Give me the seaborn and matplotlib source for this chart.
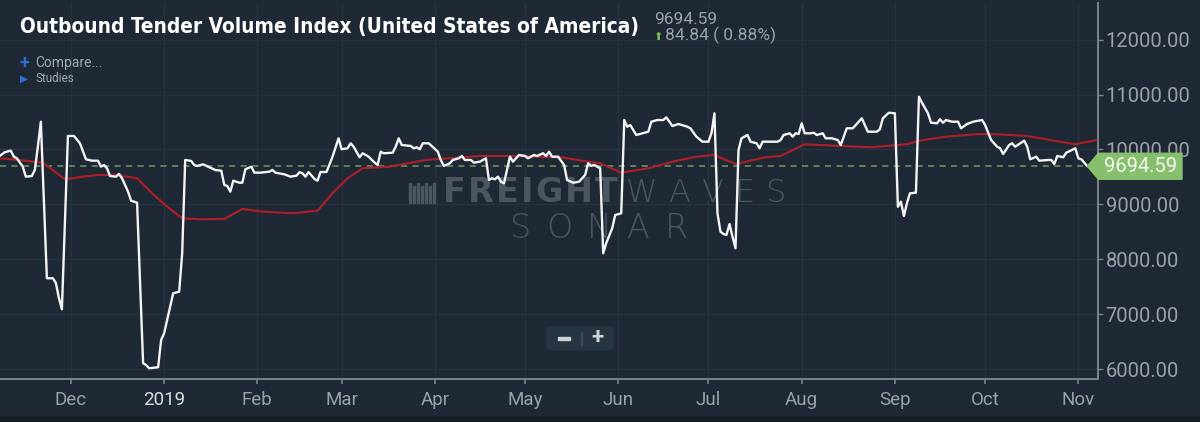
import pandas as pd
import matplotlib
matplotlib.use("Agg")
import matplotlib.pyplot as plt
import matplotlib.dates as mdates
from matplotlib import font_manager
from matplotlib.font_manager import FontProperties
from matplotlib.patches import Polygon, FancyBboxPatch, Rectangle
import seaborn as sns

# OTVI daily values
otvi_dates = [
    "2018-11-07", "2018-11-09", "2018-11-11", "2018-11-12", "2018-11-13", "2018-11-15", "2018-11-16",
    "2018-11-18", "2018-11-19", "2018-11-20", "2018-11-21", "2018-11-23", "2018-11-25", "2018-11-26",
    "2018-11-27", "2018-11-28", "2018-11-30", "2018-12-02", "2018-12-04", "2018-12-06", "2018-12-08",
    "2018-12-10", "2018-12-11", "2018-12-12", "2018-12-13", "2018-12-14", "2018-12-16", "2018-12-17",
    "2018-12-18", "2018-12-20", "2018-12-21", "2018-12-23", "2018-12-25", "2018-12-26", "2018-12-27",
    "2018-12-30", "2018-12-31", "2019-01-01", "2019-01-04", "2019-01-06", "2019-01-07", "2019-01-08",
    "2019-01-10", "2019-01-11", "2019-01-12", "2019-01-14", "2019-01-16", "2019-01-18", "2019-01-20",
    "2019-01-21", "2019-01-22", "2019-01-23", "2019-01-24", "2019-01-26", "2019-01-27", "2019-01-28",
    "2019-01-30", "2019-01-31", "2019-02-02", "2019-02-05", "2019-02-06", "2019-02-07", "2019-02-10",
    "2019-02-12", "2019-02-14", "2019-02-15", "2019-02-16", "2019-02-17", "2019-02-18", "2019-02-20",
    "2019-02-21", "2019-02-22", "2019-02-24", "2019-02-26", "2019-02-28", "2019-03-01", "2019-03-03",
    "2019-03-04", "2019-03-05", "2019-03-07", "2019-03-08", "2019-03-10", "2019-03-12", "2019-03-13",
    "2019-03-14", "2019-03-15", "2019-03-18", "2019-03-19", "2019-03-20", "2019-03-21", "2019-03-24",
    "2019-03-25", "2019-03-26", "2019-03-27", "2019-03-28", "2019-03-30", "2019-04-02", "2019-04-03",
    "2019-04-04", "2019-04-06", "2019-04-07", "2019-04-09", "2019-04-10", "2019-04-11", "2019-04-13",
    "2019-04-14", "2019-04-16", "2019-04-18", "2019-04-19", "2019-04-20", "2019-04-21", "2019-04-22",
    "2019-04-23", "2019-04-24", "2019-04-25", "2019-04-26", "2019-04-27", "2019-04-28", "2019-04-29",
    "2019-05-01", "2019-05-02", "2019-05-04", "2019-05-05", "2019-05-07", "2019-05-08", "2019-05-09",
    "2019-05-10", "2019-05-12", "2019-05-14", "2019-05-15", "2019-05-17", "2019-05-19", "2019-05-21",
    "2019-05-22", "2019-05-23", "2019-05-24", "2019-05-26", "2019-05-27", "2019-05-28", "2019-05-30",
    "2019-05-31", "2019-06-02", "2019-06-03", "2019-06-04", "2019-06-05", "2019-06-07", "2019-06-09",
    "2019-06-11", "2019-06-12", "2019-06-14", "2019-06-16", "2019-06-17", "2019-06-18", "2019-06-19",
    "2019-06-21", "2019-06-24", "2019-06-25", "2019-06-27", "2019-06-29", "2019-07-01", "2019-07-02",
    "2019-07-03", "2019-07-04", "2019-07-05", "2019-07-06", "2019-07-07", "2019-07-08", "2019-07-09",
    "2019-07-10", "2019-07-11", "2019-07-12", "2019-07-14", "2019-07-15", "2019-07-17", "2019-07-18",
    "2019-07-19", "2019-07-22", "2019-07-24", "2019-07-25", "2019-07-26", "2019-07-28", "2019-07-29",
    "2019-07-30", "2019-07-31", "2019-08-01", "2019-08-02", "2019-08-04", "2019-08-05", "2019-08-06",
    "2019-08-08", "2019-08-09", "2019-08-11", "2019-08-13", "2019-08-14", "2019-08-16", "2019-08-18",
    "2019-08-19", "2019-08-21", "2019-08-23", "2019-08-26", "2019-08-27", "2019-08-28", "2019-08-30",
    "2019-09-01", "2019-09-02", "2019-09-03", "2019-09-04", "2019-09-05", "2019-09-06", "2019-09-08",
    "2019-09-09", "2019-09-10", "2019-09-12", "2019-09-13", "2019-09-15", "2019-09-16", "2019-09-17",
    "2019-09-18", "2019-09-20", "2019-09-22", "2019-09-23", "2019-09-25", "2019-09-27", "2019-09-30",
    "2019-10-01", "2019-10-03", "2019-10-05", "2019-10-06", "2019-10-07", "2019-10-09", "2019-10-10",
    "2019-10-11", "2019-10-14", "2019-10-15", "2019-10-16", "2019-10-18", "2019-10-19", "2019-10-22",
    "2019-10-23", "2019-10-24", "2019-10-25", "2019-10-27", "2019-10-28", "2019-10-31", "2019-11-01",
    "2019-11-02", "2019-11-04",
]
otvi_values = [
    9870, 9950, 9980, 9870, 9840, 9687, 9505,
    9517, 9627, 10051, 10506, 7655, 7655, 7569,
    7296, 7090, 10246, 10246, 10113, 9822, 9796,
    9796, 9687, 9718, 9658, 9517, 9505, 9554,
    9476, 9232, 9068, 9031, 6107, 6076, 6016,
    6034, 6531, 6653, 7381, 7411, 8110, 9809,
    9791, 9718, 9700, 9730, 9676, 9627, 9614,
    9354, 9335, 9232, 9432, 9395, 9395, 9639,
    9687, 9578, 9578, 9596, 9627, 9578, 9548,
    9505, 9523, 9585, 9567, 9505, 9590, 9463,
    9432, 9590, 9590, 9869, 10204, 10004, 10022,
    10113, 10051, 9858, 9931, 9869, 9760, 9718,
    9960, 9931, 9942, 10051, 10204, 10082, 10064,
    10022, 10040, 10004, 10113, 10113, 9960, 9809,
    9700, 9749, 9809, 9840, 9882, 9809, 9809,
    9760, 9778, 9840, 9445, 9476, 9457, 9505,
    9414, 9384, 9627, 9869, 9778, 9840, 9900,
    9882, 9840, 9900, 9882, 9931, 9882, 9960,
    9869, 9869, 9718, 9445, 9395, 9414, 9536,
    9749, 9700, 9718, 9658, 8110, 8292, 8565,
    8807, 8838, 10537, 10415, 10446, 10264, 10295,
    10324, 10506, 10537, 10537, 10586, 10506, 10428,
    10464, 10415, 10386, 10233, 10142, 10142, 10295,
    10659, 8838, 8503, 8461, 8443, 8643, 8412,
    8201, 9991, 10204, 10264, 10142, 10113, 10022,
    10142, 10142, 10142, 10173, 10264, 10295, 10233,
    10295, 10282, 10477, 10295, 10295, 10306, 10264,
    10295, 10204, 10204, 10173, 10082, 10386, 10386,
    10446, 10568, 10324, 10324, 10368, 10568, 10670,
    10659, 8958, 9049, 8789, 9020, 9202, 9213,
    10961, 10852, 10659, 10488, 10477, 10550, 10488,
    10537, 10506, 10506, 10386, 10464, 10506, 10537,
    10446, 10173, 10051, 10022, 9918, 10082, 10113,
    10051, 10160, 10051, 9822, 9869, 9796, 9809,
    9809, 9736, 9882, 9858, 9942, 10022, 9840,
    9822, 9694.59,
]

# red moving-average study
avg_dates = [
    "2018-11-07", "2018-11-14", "2018-11-21", "2018-11-22", "2018-11-29", "2018-12-05", "2018-12-10",
    "2018-12-16", "2018-12-23", "2018-12-28", "2019-01-02", "2019-01-07", "2019-01-13", "2019-01-21",
    "2019-01-27", "2019-02-03", "2019-02-13", "2019-02-21", "2019-02-26", "2019-03-03", "2019-03-08",
    "2019-03-17", "2019-03-23", "2019-03-29", "2019-04-06", "2019-04-16", "2019-04-25", "2019-05-06",
    "2019-05-13", "2019-05-22", "2019-05-26", "2019-06-02", "2019-06-11", "2019-06-19", "2019-06-27",
    "2019-07-03", "2019-07-10", "2019-07-20", "2019-07-25", "2019-08-02", "2019-08-14", "2019-08-24",
    "2019-09-05", "2019-09-09", "2019-09-18", "2019-09-29", "2019-10-05", "2019-10-15", "2019-10-24",
    "2019-10-31", "2019-11-07",
]
avg_values = [
    9840, 9809, 9760, 9749, 9457, 9505, 9536,
    9536, 9476, 9202, 8958, 8747, 8729, 8734,
    8917, 8867, 8838, 8886, 9202, 9476, 9658,
    9687, 9749, 9809, 9840, 9882, 9882, 9869,
    9858, 9778, 9749, 9578, 9658, 9778, 9869,
    9900, 9736, 9858, 9882, 10095, 10064, 10040,
    10095, 10160, 10233, 10282, 10277, 10246, 10160,
    10095, 10173,
]

last_value = 9694.59
last_change = 84.84
last_change_pct = 0.88
title = "Outbound Tender Volume Index (United States of America)"
y_ticks = [6000, 7000, 8000, 9000, 10000, 11000, 12000]
month_ticks = ["2018-12-01", "2019-01-01", "2019-02-01", "2019-03-01", "2019-04-01", "2019-05-01",
               "2019-06-01", "2019-07-01", "2019-08-01", "2019-09-01", "2019-10-01", "2019-11-01"]
month_labels = ["Dec", "2019", "Feb", "Mar", "Apr", "May", "Jun", "Jul", "Aug", "Sep", "Oct", "Nov"]

sns.set_style("dark")
plt.rcParams["font.family"] = ["Roboto", "DejaVu Sans"]

# look for a condensed bold face for the title
title_prop = FontProperties(family="Roboto", weight="bold")
narrow = [f for f in font_manager.fontManager.ttflist
          if ("Condensed" in f.name or "Narrow" in f.name or "condensed" in str(f.stretch))]
narrow_bold = [f for f in narrow if (isinstance(f.weight, int) and f.weight >= 600)
               or str(f.weight) in ("bold", "heavy", "black")]
if narrow_bold:
    title_prop = FontProperties(fname=narrow_bold[0].fname)
elif narrow:
    title_prop = FontProperties(fname=narrow[0].fname, weight="bold")

bg = "#1e2935"
grid_c = "#27333f"
spine_c = "#7c848c"
label_c = "#9ba1a7"
W, H = 1200, 422

fig = plt.figure(figsize=(12, 4.22), dpi=100, facecolor=bg)
ax = fig.add_axes([0, 1 - 379 / H, 1098 / W, 376 / H])
ax.set_facecolor(bg)

df = pd.DataFrame({"date": pd.to_datetime(otvi_dates), "value": otvi_values})
avg = pd.DataFrame({"date": pd.to_datetime(avg_dates), "value": avg_values})

sns.lineplot(data=avg, x="date", y="value", ax=ax, color="#b01f29", lw=1.5, zorder=3)
sns.lineplot(data=df, x="date", y="value", ax=ax, color="#f4f4f4", lw=1.7, zorder=4)

ax.set_xlim(pd.Timestamp("2018-11-07 10:00"), pd.Timestamp("2019-11-07 13:00"))
ax.set_ylim(5820, 12668)
ax.set_xlabel("")
ax.set_ylabel("")

# last value dashed line
ax.hlines(last_value, ax.get_xlim()[0], mdates.date2num(df["date"].iloc[-1]),
          colors="#6f9c64", linestyles=(0, (4, 3.5)), lw=1.1, zorder=2)

ax.grid(True, color=grid_c, lw=1)
ax.set_axisbelow(True)

ax.yaxis.tick_right()
ax.set_yticks(y_ticks)
ax.set_yticklabels([f"{v:.2f}" for v in y_ticks])
ax.tick_params(axis="y", which="both", right=True, left=False, labelright=True, labelleft=False,
               direction="out", length=3.5, width=1, color=spine_c, labelcolor=label_c,
               labelsize=14.5, pad=2)

ax.set_xticks(pd.to_datetime(month_ticks))
ax.set_xticklabels(month_labels)
ax.tick_params(axis="x", which="both", bottom=True, direction="out", length=3.5, width=1.2,
               color=spine_c, labelcolor=label_c, labelsize=13.5, pad=5)
for lab in ax.get_xticklabels():
    if lab.get_text() == "2019":
        lab.set_color("#dadde0")

for s in ["top", "left"]:
    ax.spines[s].set_visible(False)
for s in ["bottom", "right"]:
    ax.spines[s].set_visible(True)
    ax.spines[s].set_color(spine_c)
    ax.spines[s].set_linewidth(1.4)

# watermark (behind the lines)
wm_c = "#4b5661"
fig.canvas.draw()
renderer = fig.canvas.get_renderer()


def spread_word(word, x0, x1, yc, size, weight):
    objs = []
    for ch in word:
        t = ax.text(0, 0, ch, transform=fig.transFigure, fontsize=size, color=wm_c,
                    family="DejaVu Sans", fontweight=weight, va="center", ha="left", zorder=1)
        objs.append(t)
    widths = [t.get_window_extent(renderer).width for t in objs]
    gap = (x1 - x0 - sum(widths)) / (len(objs) - 1)
    xpos = x0
    for t, w in zip(objs, widths):
        t.set_position((xpos / W, 1 - yc / H))
        xpos += w + gap


spread_word("FREIGHT", 443, 618, 193, 24, "bold")
spread_word("WAVES", 626, 785, 193, 23, "light")
spread_word("SONAR", 510, 688, 229, 24, "light")
for i, bx in enumerate(range(409, 434, 4)):
    top = 183 if i % 2 == 0 else 186
    ax.add_patch(Rectangle((bx / W, 1 - 203 / H), 2 / W, (203 - top) / H,
                           transform=fig.transFigure, color=wm_c, zorder=1, clip_on=False))

# title and header
t = fig.text(20 / W, 1 - 33 / H, title, color="white", fontproperties=title_prop,
             va="baseline", ha="left")
t.set_fontsize(18)
fig.canvas.draw()
tw = t.get_window_extent(fig.canvas.get_renderer()).width
t.set_fontsize(18 * 620 / tw)

fig.text(654 / W, 1 - 24 / H, f"{last_value:.2f}", color=label_c, fontsize=12.5,
         va="baseline", ha="left")
fig.text(653 / W, 1 - 40 / H, "⬆", color="#7cc04a", fontsize=8, va="baseline", ha="left",
         family="DejaVu Sans")
fig.text(665 / W, 1 - 40 / H, f"{last_change:.2f} ( {last_change_pct:.2f}%)", color=label_c,
         fontsize=12.5, va="baseline", ha="left")

fig.text(19 / W, 1 - 63 / H, "+", color="#2f6fd6", fontsize=13, fontweight="bold",
         va="center", ha="left")
fig.text(35 / W, 1 - 63 / H, "Compare...", color="#a2a8ae", fontsize=10, va="center", ha="left")
fig.text(20 / W, 1 - 79 / H, "▶", color="#2f6fd6", fontsize=7.5, va="center", ha="left",
         family="DejaVu Sans")
fig.text(35 / W, 1 - 79 / H, "Studies", color="#a2a8ae", fontsize=8.5, va="center", ha="left")

# zoom buttons
fig.add_artist(FancyBboxPatch((547 / W, 1 - 350 / H), 66 / W, 23 / H,
                              boxstyle="round,pad=0,rounding_size=0.004",
                              transform=fig.transFigure, color="#273442", zorder=5))
fig.add_artist(Rectangle((580.5 / W, 1 - 345 / H), 1 / W, 13 / H, transform=fig.transFigure,
                         color="#3b4754", zorder=6))
fig.add_artist(Rectangle((558 / W, 1 - 339.5 / H), 12 / W, 2.5 / H, transform=fig.transFigure,
                         color="#cfd2d6", zorder=7))
fig.text(597 / W, 1 - 338.5 / H, "+", color="#cfd2d6", fontsize=16, fontweight="bold",
         va="center", ha="center", zorder=7)

# last value tag on the price axis
tip_x, tip_y = ax.transData.transform((mdates.date2num(df["date"].iloc[-1]), last_value))
right_x = 1182
half = 13
tag = Polygon([(tip_x / W, tip_y / H), ((tip_x + 11) / W, (tip_y + half) / H),
               (right_x / W, (tip_y + half) / H), (right_x / W, (tip_y - half) / H),
               ((tip_x + 11) / W, (tip_y - half) / H)],
              closed=True, transform=fig.transFigure, color="#86c06c", zorder=8)
fig.add_artist(tag)
fig.text((tip_x + 11 + right_x) / 2 / W, tip_y / H, f"{last_value:.2f}", color="#f4f7f2",
         fontsize=14.5, va="center", ha="center", zorder=9)

# darker strip at the bottom edge
fig.add_artist(Rectangle((0, 0), 1, 5 / H, transform=fig.transFigure, color="#151c24", zorder=0))

fig.savefig("out.png", dpi=100, facecolor=bg)
